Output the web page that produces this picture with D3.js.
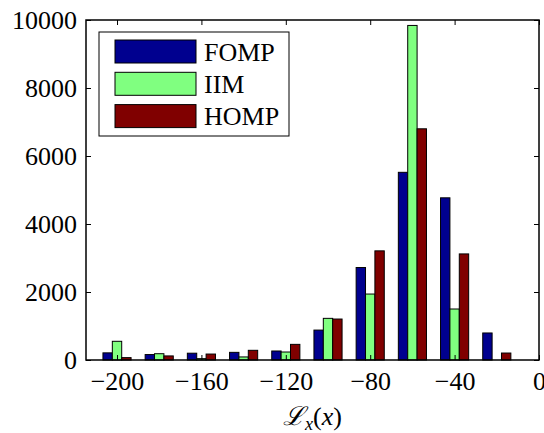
<!DOCTYPE html>
<html>
<head>
<meta charset="utf-8">
<script src="https://cdn.jsdelivr.net/npm/d3@7"></script>
<style>
	body { margin: 0; background: #fff; }
	text { font-family: "Liberation Serif", "Times New Roman", serif; }
</style>
</head>
<body>
<script>
'use strict'

// bin centres and counts per method
const bins = [-200, -180, -160, -140, -120, -100, -80, -60, -40, -20];
const seriesNames = ['FOMP', 'IIM', 'HOMP'];
const fomp = [210, 160, 200, 225, 265, 880, 2720, 5520, 4770, 795];
const iim = [550, 185, 40, 90, 235, 1225, 1940, 9840, 1500, 0];
const homp = [70, 120, 175, 285, 460, 1205, 3210, 6800, 3120, 205];
const xTicks = [-200, -160, -120, -80, -40, 0];
const yTicks = [0, 2000, 4000, 6000, 8000, 10000];
const colors = ['#00008f', '#80ff80', '#800000'];

;(() => {
	const W = 544, H = 433;
	const m = { left: 86, right: 5, top: 20, bottom: 73 };
	const fs = 26;

	const svg = d3.select('body').append('svg')
		.attr('width', W)
		.attr('height', H);

	const x = d3.scaleLinear().domain([-214.7, 0]).range([m.left, W - m.right]);
	const y = d3.scaleLinear().domain([0, 10000]).range([H - m.bottom, m.top]);

	const series = [fomp, iim, homp];
	const barW = 20 * (3 / 4.5) / 3;

	// bars
	series.forEach((vals, s) => {
		svg.append('g').selectAll('rect')
			.data(vals.map((v, i) => ({ x: bins[i] + (s - 1) * barW, v })))
			.enter().append('rect')
			.attr('x', d => x(d.x - barW / 2))
			.attr('width', d => x(d.x + barW / 2) - x(d.x - barW / 2))
			.attr('y', d => y(d.v))
			.attr('height', d => y(0) - y(d.v))
			.attr('fill', colors[s])
			.attr('stroke', '#000')
			.attr('stroke-width', 1);
	});

	// axes, ticks pointing inward
	const styleAxis = g => {
		g.select('.domain').remove();
		g.selectAll('line').attr('stroke', '#000').attr('stroke-width', 1);
		g.selectAll('text').attr('font-size', fs).attr('fill', '#000')
			.style('font-family', '"Liberation Serif", serif');
	};

	svg.append('g')
		.attr('transform', `translate(0,${y(0)})`)
		.call(d3.axisBottom(x).tickValues(xTicks).tickSizeInner(-5).tickSizeOuter(0).tickPadding(12)
			.tickFormat(d3.format('d')))
		.call(styleAxis);

	svg.append('g')
		.attr('transform', `translate(0,${y(10000)})`)
		.call(d3.axisTop(x).tickValues(xTicks).tickSizeInner(-5).tickSizeOuter(0).tickFormat(''))
		.call(styleAxis);

	svg.append('g')
		.attr('transform', `translate(${x.range()[0]},0)`)
		.call(d3.axisLeft(y).tickValues(yTicks).tickSizeInner(-5).tickSizeOuter(0).tickPadding(9)
			.tickFormat(d3.format('d')))
		.call(styleAxis);

	svg.append('g')
		.attr('transform', `translate(${x.range()[1]},0)`)
		.call(d3.axisRight(y).tickValues(yTicks).tickSizeInner(-5).tickSizeOuter(0).tickFormat(''))
		.call(styleAxis);

	// box
	svg.append('rect')
		.attr('x', x.range()[0])
		.attr('y', y(10000))
		.attr('width', x.range()[1] - x.range()[0])
		.attr('height', y(0) - y(10000))
		.attr('fill', 'none')
		.attr('stroke', '#000')
		.attr('stroke-width', 1.5);

	// x label
	const xl = svg.append('text')
		.attr('x', (x.range()[0] + x.range()[1]) / 2)
		.attr('y', 425)
		.attr('text-anchor', 'middle')
		.attr('font-size', fs);
	xl.append('tspan').text('ℒ').style('font-family', '"DejaVu Serif", serif').attr('font-style', 'italic');
	xl.append('tspan').text('x').attr('font-style', 'italic').attr('font-size', 18).attr('dy', 5);
	xl.append('tspan').text('(').attr('dy', -5);
	xl.append('tspan').text('x').attr('font-style', 'italic');
	xl.append('tspan').text(')');

	// legend
	const lg = svg.append('g');
	lg.append('rect')
		.attr('x', 99).attr('y', 32).attr('width', 190).attr('height', 104)
		.attr('fill', '#fff').attr('stroke', '#000').attr('stroke-width', 1);
	seriesNames.forEach((n, i) => {
		const cy = 51.5 + i * 32.3;
		lg.append('rect')
			.attr('x', 115).attr('y', cy - 11.5).attr('width', 81).attr('height', 23)
			.attr('fill', colors[i]).attr('stroke', '#000').attr('stroke-width', 1);
		lg.append('text')
			.attr('x', 204).attr('y', cy + 9)
			.attr('font-size', fs)
			.text(n);
	});
})();
</script>
</body>
</html>
